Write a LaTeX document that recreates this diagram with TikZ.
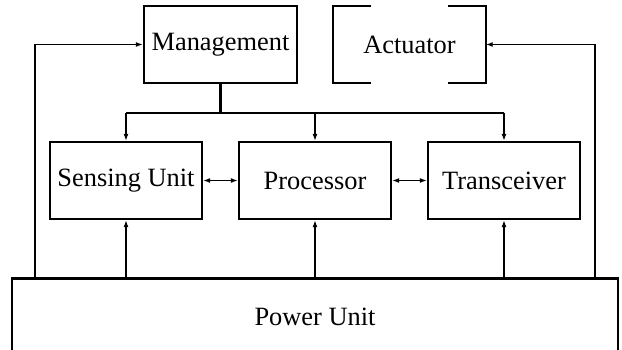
\documentclass[tikz,border=0pt]{standalone}
\usepackage{fontspec}
\setmainfont{Liberation Serif}
\usetikzlibrary{arrows.meta}
\begin{document}
\begin{tikzpicture}[x=1pt,y=-1pt,
  font=\fontsize{26.4}{30}\selectfont,
  box/.style={draw, line width=2.3pt, minimum width=152pt, minimum height=77pt, inner sep=0pt},
  plain/.style={minimum width=152pt, minimum height=77pt, inner sep=0pt},
  conn/.style={line width=1.5pt, -{Latex[length=7pt,width=5pt]}},
  dconn/.style={line width=1.5pt, {Latex[length=7pt,width=5pt]}-{Latex[length=7pt,width=5pt]}},
  stem/.style={line width=2.5pt},
  bracket/.style={line width=2.3pt}]
\path[use as bounding box, clip] (0,0) rectangle (622,350);
\fill[white] (0,0) rectangle (622,350);
\node[box, minimum width=153pt] (mgmt) at (220.5,44.5) {Management};
\node[plain] (act) at (409.5,44.5) {Actuator};
\node[box] (sense) at (126,180.5) {Sensing Unit};
\node[box] (proc) at (315,180.5) {Processor};
\node[box] (trans) at (504,180.5) {Transceiver};
\node[box, minimum width=606pt] (power) at (315,317) {Power Unit};
% actuator brackets
\draw[bracket] ([xshift=38pt]act.north west) -- (act.north west) -- (act.south west) -- ([xshift=38pt]act.south west);
\draw[bracket] ([xshift=-38pt]act.north east) -- (act.north east) -- (act.south east) -- ([xshift=-38pt]act.south east);
% management bus
\draw[stem] (mgmt.south) -- (mgmt.south |- 0,113) coordinate (busc);
\draw[line width=1.5pt] (busc -| sense.north) -- (busc -| trans.north);
\draw[conn] (busc -| sense.north) -- (sense.north);
\draw[conn] (busc -| proc.north) -- (proc.north);
\draw[conn] (busc -| trans.north) -- (trans.north);
% peer links
\draw[dconn] (sense.east) -- (proc.west);
\draw[dconn] (proc.east) -- (trans.west);
% power feeds
\draw[conn] (power.north -| sense.south) -- (sense.south);
\draw[conn] (power.north -| proc.south) -- (proc.south);
\draw[conn] (power.north -| trans.south) -- (trans.south);
\draw[conn] (power.north -| 35,0) |- (mgmt.west);
\draw[conn] (power.north -| 595,0) |- (act.east);
\end{tikzpicture}
\end{document}
